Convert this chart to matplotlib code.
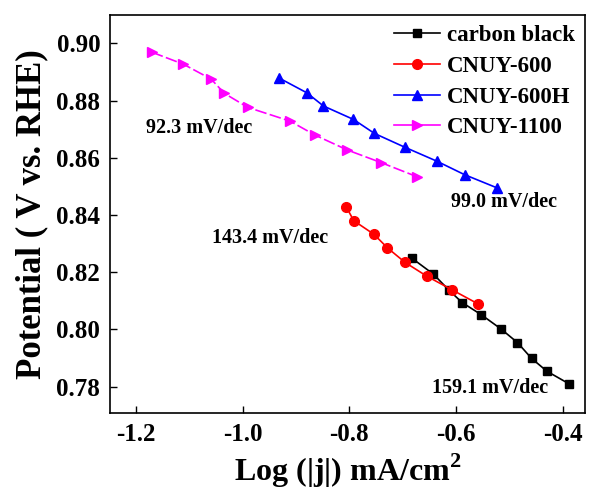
import matplotlib
matplotlib.use("Agg")
import matplotlib.pyplot as plt

plt.rcParams['font.family'] = ['Liberation Serif', 'DejaVu Serif']
plt.rcParams['font.weight'] = 'bold'
plt.rcParams['mathtext.fontset'] = 'custom'
plt.rcParams['mathtext.rm'] = 'Liberation Serif:bold'

# ---- data ----
cb_x = [-0.6827, -0.6422, -0.6131, -0.5884, -0.5522, -0.5158, -0.4846, -0.4583, -0.4295, -0.3871]
cb_y = [0.8249, 0.8193, 0.8137, 0.8094, 0.8051, 0.8002, 0.7954, 0.7899, 0.7854, 0.7809]

c600_x = [-0.806, -0.7917, -0.7535, -0.7285, -0.6953, -0.6546, -0.6079, -0.5593]
c600_y = [0.8429, 0.8380, 0.8332, 0.8285, 0.8234, 0.8186, 0.8139, 0.8090]

c600h_x = [-0.9311, -0.8797, -0.8486, -0.7923, -0.7529, -0.6962, -0.6358, -0.5840, -0.5233]
c600h_y = [0.8878, 0.8827, 0.8781, 0.8734, 0.8685, 0.8637, 0.8588, 0.8541, 0.8495]

c1100_x = [-1.1705, -1.1113, -1.0593, -1.0343, -0.9904, -0.9111, -0.8642, -0.8036, -0.7403, -0.6734]
c1100_y = [0.8969, 0.8927, 0.8875, 0.8825, 0.8776, 0.8728, 0.8679, 0.8627, 0.8583, 0.8534]

series_names = ['carbon black', 'CNUY-600', 'CNUY-600H', 'CNUY-1100']
slope_labels = ['159.1 mV/dec', '143.4 mV/dec', '99.0 mV/dec', '92.3 mV/dec']
slope_pos = [(-0.6447, 0.7797), (-1.0574, 0.8319), (-0.6096, 0.8446), (-1.181, 0.8704)]

x_ticks = [-1.2, -1.0, -0.8, -0.6, -0.4]
y_ticks = [0.78, 0.80, 0.82, 0.84, 0.86, 0.88, 0.90]

fig = plt.figure(figsize=(5.9, 4.93), dpi=100)
ax = fig.add_axes([0.1864, 0.1623, 0.9915 - 0.1864, 0.9696 - 0.1623])

ax.plot(cb_x, cb_y, color='black', marker='s', ms=6, lw=1.2, label=series_names[0])
ax.plot(c600_x, c600_y, color='#ff0000', marker='o', ms=7, lw=1.2, label=series_names[1])
ax.plot(c600h_x, c600h_y, color='#0000ff', marker='^', ms=7.5, lw=1.2, label=series_names[2])
ax.plot(c1100_x, c1100_y, color='#ff00ff', marker='>', ms=7.5, lw=1.2,
        dashes=(7, 2), label=series_names[3])

for txt, (tx, ty) in zip(slope_labels, slope_pos):
    ax.text(tx, ty, txt, fontsize=14.5, fontweight='bold', ha='left', va='center')

ax.set_xlim(-1.249, -0.358)
ax.set_ylim(0.7708, 0.9099)
ax.set_xticks(x_ticks)
ax.set_xticklabels([f"{v:.1f}" for v in x_ticks])
ax.set_yticks(y_ticks)
ax.set_yticklabels([f"{v:.2f}" for v in y_ticks])
ax.tick_params(direction='in', length=5, width=1, labelsize=18, pad=7)
for lab in ax.get_xticklabels() + ax.get_yticklabels():
    lab.set_fontweight('bold')
for sp in ax.spines.values():
    sp.set_linewidth(1.2)

ax.set_xlabel('Log (|j|) mA/cm$^2$', fontsize=23, fontweight='bold', labelpad=4)
ax.set_ylabel('Potential ( V vs. RHE)', fontsize=25, fontweight='bold', labelpad=6)

leg = ax.legend(loc='upper right', frameon=False, fontsize=16.5, handlelength=2.0,
                handletextpad=0.3, labelspacing=0.42, borderaxespad=0.05)
for h in leg.legend_handles:
    h.set_linestyle('-')
for t in leg.get_texts():
    t.set_fontweight('bold')

fig.savefig('out.png', dpi=100)
